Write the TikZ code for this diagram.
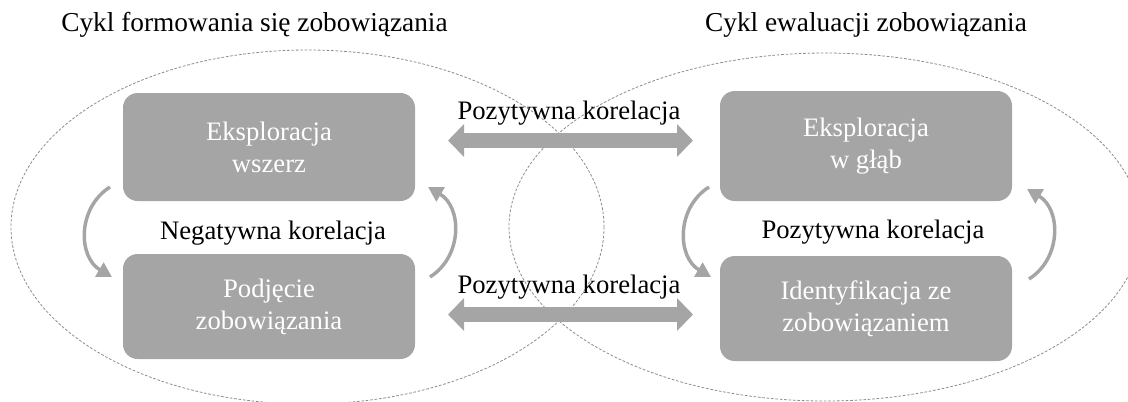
\documentclass[tikz,border=0pt]{standalone}
\usepackage{fontspec}
\setmainfont{Liberation Serif}
\usetikzlibrary{arrows.meta}
\definecolor{boxgray}{HTML}{A5A5A5}
\definecolor{ringgray}{HTML}{8C8C8C}
\tikzset{
  stage/.style={rounded corners=11pt, fill=boxgray, text=white, align=center,
    inner sep=0pt, minimum width=219pt, font=\fontsize{20pt}{24pt}\selectfont},
  lbl/.style={font=\fontsize{20pt}{24pt}\selectfont, anchor=base, inner sep=0pt},
  heading/.style={lbl, font=\fontsize{20.5pt}{24pt}\selectfont},
  ring/.style={draw=ringgray, line width=0.6pt, dash pattern=on 2pt off 1.3pt},
  link/.style={draw=boxgray, line width=11.25pt,
    {Triangle[width=24pt,length=12pt]}-{Triangle[width=24pt,length=12pt]}},
  turn/.style={draw=boxgray, line width=2.6pt, -{Triangle[width=12pt,length=11pt]}},
}
\begin{document}
\begin{tikzpicture}[x=0.75pt,y=-0.75pt]
\useasboundingbox (0,0) rectangle (1128,401);

% the two cycles
\begin{scope}
  \clip (0,0) rectangle (1128,401);
  \draw[ring] (307.5,227) ellipse [x radius=296.5, y radius=177];
  \draw[ring] (825,227) ellipse [x radius=316, y radius=174];
\end{scope}

% cycle titles
\node[heading] (t1) at (254.5,31) {Cykl formowania się zobowiązania};
\node[heading] (t2) at (866,31) {Cykl ewaluacji zobowiązania};

% stages
\node[stage, minimum height=81pt]    (ew) at (269,147)   {Eksploracja\\wszerz};
\node[stage, minimum height=78.75pt] (pz) at (269,306.5) {Podjęcie\\zobowiązania};
\node[stage, minimum height=82.5pt]  (eg) at (866,146)   {Eksploracja\\w głąb};
\node[stage, minimum height=78.75pt] (iz) at (866,308.5) {Identyfikacja ze\\zobowiązaniem};

% links between the cycles
\coordinate (a1l) at (448,140.5);
\coordinate (a1r) at (693,140.5);
\coordinate (a2l) at (448,314.5);
\coordinate (a2r) at (693,314.5);
\draw[link] (a1l) -- (a1r);
\draw[link] (a2l) -- (a2r);

% correlation labels
\node[lbl] (k1) at (569,119) {Pozytywna korelacja};
\node[lbl] (k2) at (569,293) {Pozytywna korelacja};
\node[lbl] (k3) at (273,239) {Negatywna korelacja};
\node[lbl] (k4) at (873,238) {Pozytywna korelacja};

% loops inside each cycle
\coordinate (c1s) at (110,187);  \coordinate (c1e) at (112,277);
\coordinate (c2s) at (430,277);  \coordinate (c2e) at (428,187);
\coordinate (c3s) at (709,187);  \coordinate (c3e) at (711,277);
\coordinate (c4s) at (1029,279); \coordinate (c4e) at (1027,189);
\draw[turn] (c1s) .. controls +(-33,21) and +(-34,-20) .. (c1e);
\draw[turn] (c2s) .. controls +(33,-21) and +(34,20) .. (c2e);
\draw[turn] (c3s) .. controls +(-33,21) and +(-34,-20) .. (c3e);
\draw[turn] (c4s) .. controls +(33,-21) and +(34,20) .. (c4e);
\end{tikzpicture}
\end{document}
